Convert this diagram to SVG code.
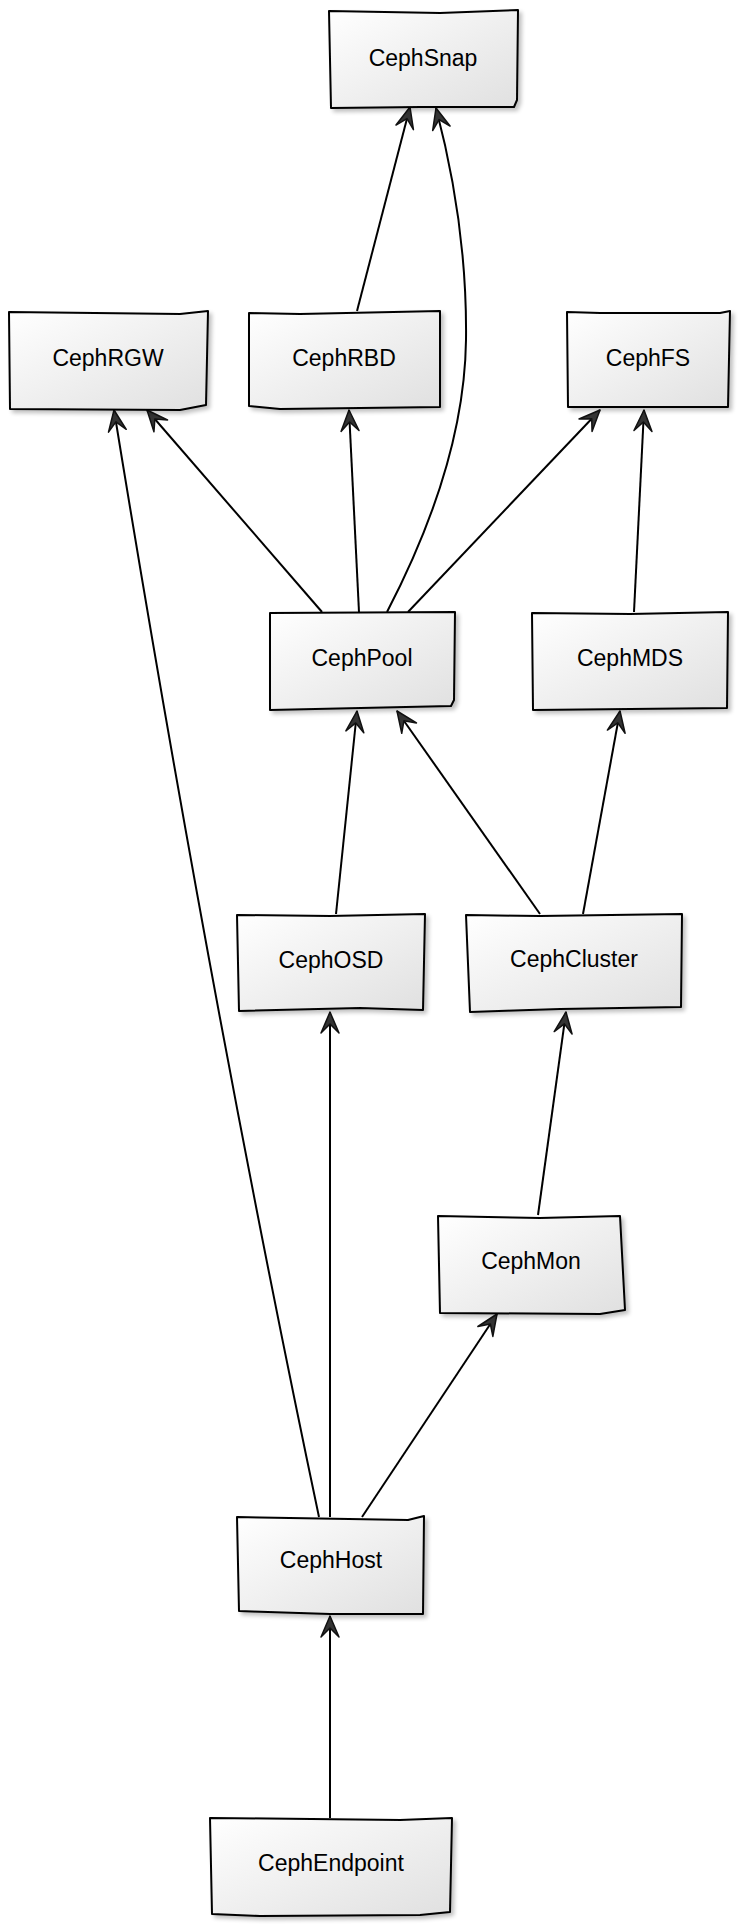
<svg xmlns="http://www.w3.org/2000/svg" width="738" height="1926" viewBox="0 0 738 1926">
<defs>
<linearGradient id="g" x1="0" y1="0" x2="1" y2="1">
<stop offset="0" stop-color="#ffffff"/>
<stop offset="1" stop-color="#e0e0e0"/>
</linearGradient>
<filter id="sh" x="-10%" y="-10%" width="130%" height="140%">
<feGaussianBlur in="SourceAlpha" stdDeviation="2"/>
<feOffset dx="3" dy="3" result="b"/>
<feComponentTransfer><feFuncA type="linear" slope="0.25"/></feComponentTransfer>
<feMerge><feMergeNode/><feMergeNode in="SourceGraphic"/></feMerge>
</filter>
<marker id="arr" markerUnits="userSpaceOnUse" viewBox="-24 -11 26 22" refX="0" refY="0" markerWidth="26" markerHeight="22" orient="auto">
<path d="M0,0 L-21,-9 L-12,0 L-21,9 Z" fill="#333" stroke="#111" stroke-width="1.5" stroke-linejoin="round"/>
</marker>
</defs>
<style>
.box{fill:url(#g);stroke:#000;stroke-width:2;stroke-linejoin:round;filter:url(#sh)}
.lbl{font-family:"Liberation Sans","Noto Sans",sans-serif;font-size:23px;fill:#000;text-anchor:middle;dominant-baseline:central}
.e{fill:none;stroke:#000;stroke-width:2;marker-end:url(#arr)}
</style>
<g id="connectors">
<path class="e" d="M357,311 L410,107"/>
<path class="e" d="M387,612 C440,510 465,420 466,340 C467,260 455,180 436,108"/>
<path class="e" d="M322,612 L147,410"/>
<path class="e" d="M359,612 L349,410"/>
<path class="e" d="M408,612 L600,410"/>
<path class="e" d="M634,612 L644,410"/>
<path class="e" d="M336,914 L357,711"/>
<path class="e" d="M540,914 L397,711"/>
<path class="e" d="M583,914 L620,711"/>
<path class="e" d="M538,1215 L566,1012"/>
<path class="e" d="M319,1517 Q210,1000 114,410"/>
<path class="e" d="M330,1517 L330,1012"/>
<path class="e" d="M362,1517 L497,1314"/>
<path class="e" d="M330,1818 L330,1616"/>
</g>
<g id="CephSnap"><path class="box" d="M329,11 L440,13 L518,10 L517,100 L514,107 L420,107 L331,108 Z"/><text class="lbl" x="423" y="58">CephSnap</text></g>
<g id="CephRGW"><path class="box" d="M9,312 L180,314 L208,311 L206,405 L180,410 L10,409 Z"/><text class="lbl" x="108" y="358">CephRGW</text></g>
<g id="CephRBD"><path class="box" d="M249,313 L300,314 L440,311 L440,407 L280,409 L249,406 Z"/><text class="lbl" x="344" y="358">CephRBD</text></g>
<g id="CephFS"><path class="box" d="M567,312 L600,313 L720,313 L730,311 L728,407 L568,407 Z"/><text class="lbl" x="648" y="358">CephFS</text></g>
<g id="CephPool"><path class="box" d="M270,613 L455,612 L454,700 L451,706 L270,710 Z"/><text class="lbl" x="362" y="658">CephPool</text></g>
<g id="CephMDS"><path class="box" d="M532,613 L630,614 L728,612 L727,708 L533,710 Z"/><text class="lbl" x="630" y="658">CephMDS</text></g>
<g id="CephOSD"><path class="box" d="M237,915 L330,916 L425,914 L423,1010 L360,1008 L239,1011 Z"/><text class="lbl" x="331" y="960">CephOSD</text></g>
<g id="CephCluster"><path class="box" d="M466,915 L540,916 L682,914 L681,1007 L560,1009 L470,1012 Z"/><text class="lbl" x="574" y="959">CephCluster</text></g>
<g id="CephMon"><path class="box" d="M438,1216 L540,1218 L620,1216 L625,1310 L600,1314 L440,1313 Z"/><text class="lbl" x="531" y="1261">CephMon</text></g>
<g id="CephHost"><path class="box" d="M237,1517 L408,1520 L424,1516 L423,1614 L330,1614 L239,1611 Z"/><text class="lbl" x="331" y="1560">CephHost</text></g>
<g id="CephEndpoint"><path class="box" d="M210,1818 L400,1820 L452,1818 L450,1912 L420,1915 L260,1916 L212,1914 Z"/><text class="lbl" x="331" y="1863">CephEndpoint</text></g>
</svg>
